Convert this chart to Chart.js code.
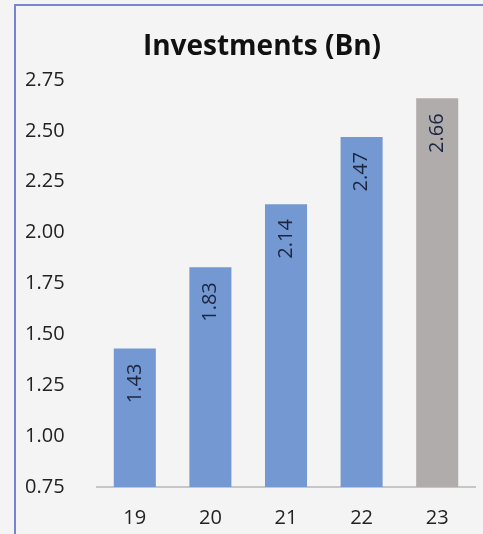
<!DOCTYPE html>
<html>
<head>
<meta charset="utf-8">
<script src="https://cdn.jsdelivr.net/npm/chart.js@4.4.1/dist/chart.umd.min.js"></script>
<style>
  html, body { margin: 0; padding: 0; background: #f4f4f4; }
  #wrap { position: relative; width: 483px; height: 534px; overflow: hidden; }
  #frame {
    position: absolute; left: 14px; top: 4px; right: -4px; bottom: -4px;
    border-left: 2px solid #7884cc; border-top: 2px solid #7884cc;
  }
  canvas { position: absolute; left: 0; top: 0; }
</style>
</head>
<body>
<div id="wrap">
  <canvas id="chart" width="483" height="534"></canvas>
  <div id="frame"></div>
</div>
<script>
// Annual investments, in billions
const years = ['19', '20', '21', '22', '23'];
const investments = [1.43, 1.83, 2.14, 2.47, 2.66];
const barColors = ['#7398d2', '#7398d2', '#7398d2', '#7398d2', '#b0acab'];
const yMin = 0.75;
const yMax = 2.75;
const yStep = 0.25;

const FONT = '"Open Sans", "DejaVu Sans", sans-serif';

// Writes each bar's value vertically, just inside the top of the bar
const barValueLabels = {
  id: 'barValueLabels',
  afterDatasetsDraw(chart) {
    const ctx = chart.ctx;
    const meta = chart.getDatasetMeta(0);
    const data = chart.data.datasets[0].data;
    ctx.save();
    ctx.font = '20px ' + FONT;
    ctx.fillStyle = '#1c2640';
    ctx.textAlign = 'right';
    ctx.textBaseline = 'middle';
    meta.data.forEach((bar, i) => {
      ctx.save();
      ctx.translate(bar.x, bar.y + 15);
      ctx.rotate(-Math.PI / 2);
      ctx.fillText(data[i].toFixed(2), 0, 0);
      ctx.restore();
    });
    ctx.restore();
  }
};

new Chart(document.getElementById('chart'), {
  type: 'bar',
  data: {
    labels: years,
    datasets: [{
      data: investments,
      backgroundColor: barColors,
      borderWidth: 0,
      categoryPercentage: 1,
      barPercentage: 0.556
    }]
  },
  options: {
    responsive: false,
    animation: false,
    layout: { padding: { left: 49, right: 8, top: 0, bottom: 4 } },
    plugins: {
      legend: { display: false },
      tooltip: { enabled: false },
      title: {
        display: true,
        text: 'Investments (Bn)',
        color: '#111111',
        font: { family: FONT, size: 28, weight: 'bold', lineHeight: 1.2 },
        padding: { top: 30, bottom: 16.4 }
      }
    },
    scales: {
      x: {
        grid: { display: false, drawTicks: false },
        border: { display: true, color: '#c6c6c6', width: 2 },
        afterFit(scale) { scale.height = 43; },
        ticks: { color: '#222222', font: { family: FONT, size: 20 }, padding: 19 }
      },
      y: {
        min: yMin,
        max: yMax,
        grid: { display: false, drawTicks: false },
        border: { display: false },
        afterFit(scale) { scale.width = 48; },
        ticks: {
          stepSize: yStep,
          color: '#222222',
          font: { family: FONT, size: 20 },
          // left-aligned labels placed out at the left edge of the frame
          mirror: true,
          padding: -72,
          callback: (v) => Number(v).toFixed(2)
        }
      }
    }
  },
  plugins: [barValueLabels]
});
</script>
</body>
</html>
